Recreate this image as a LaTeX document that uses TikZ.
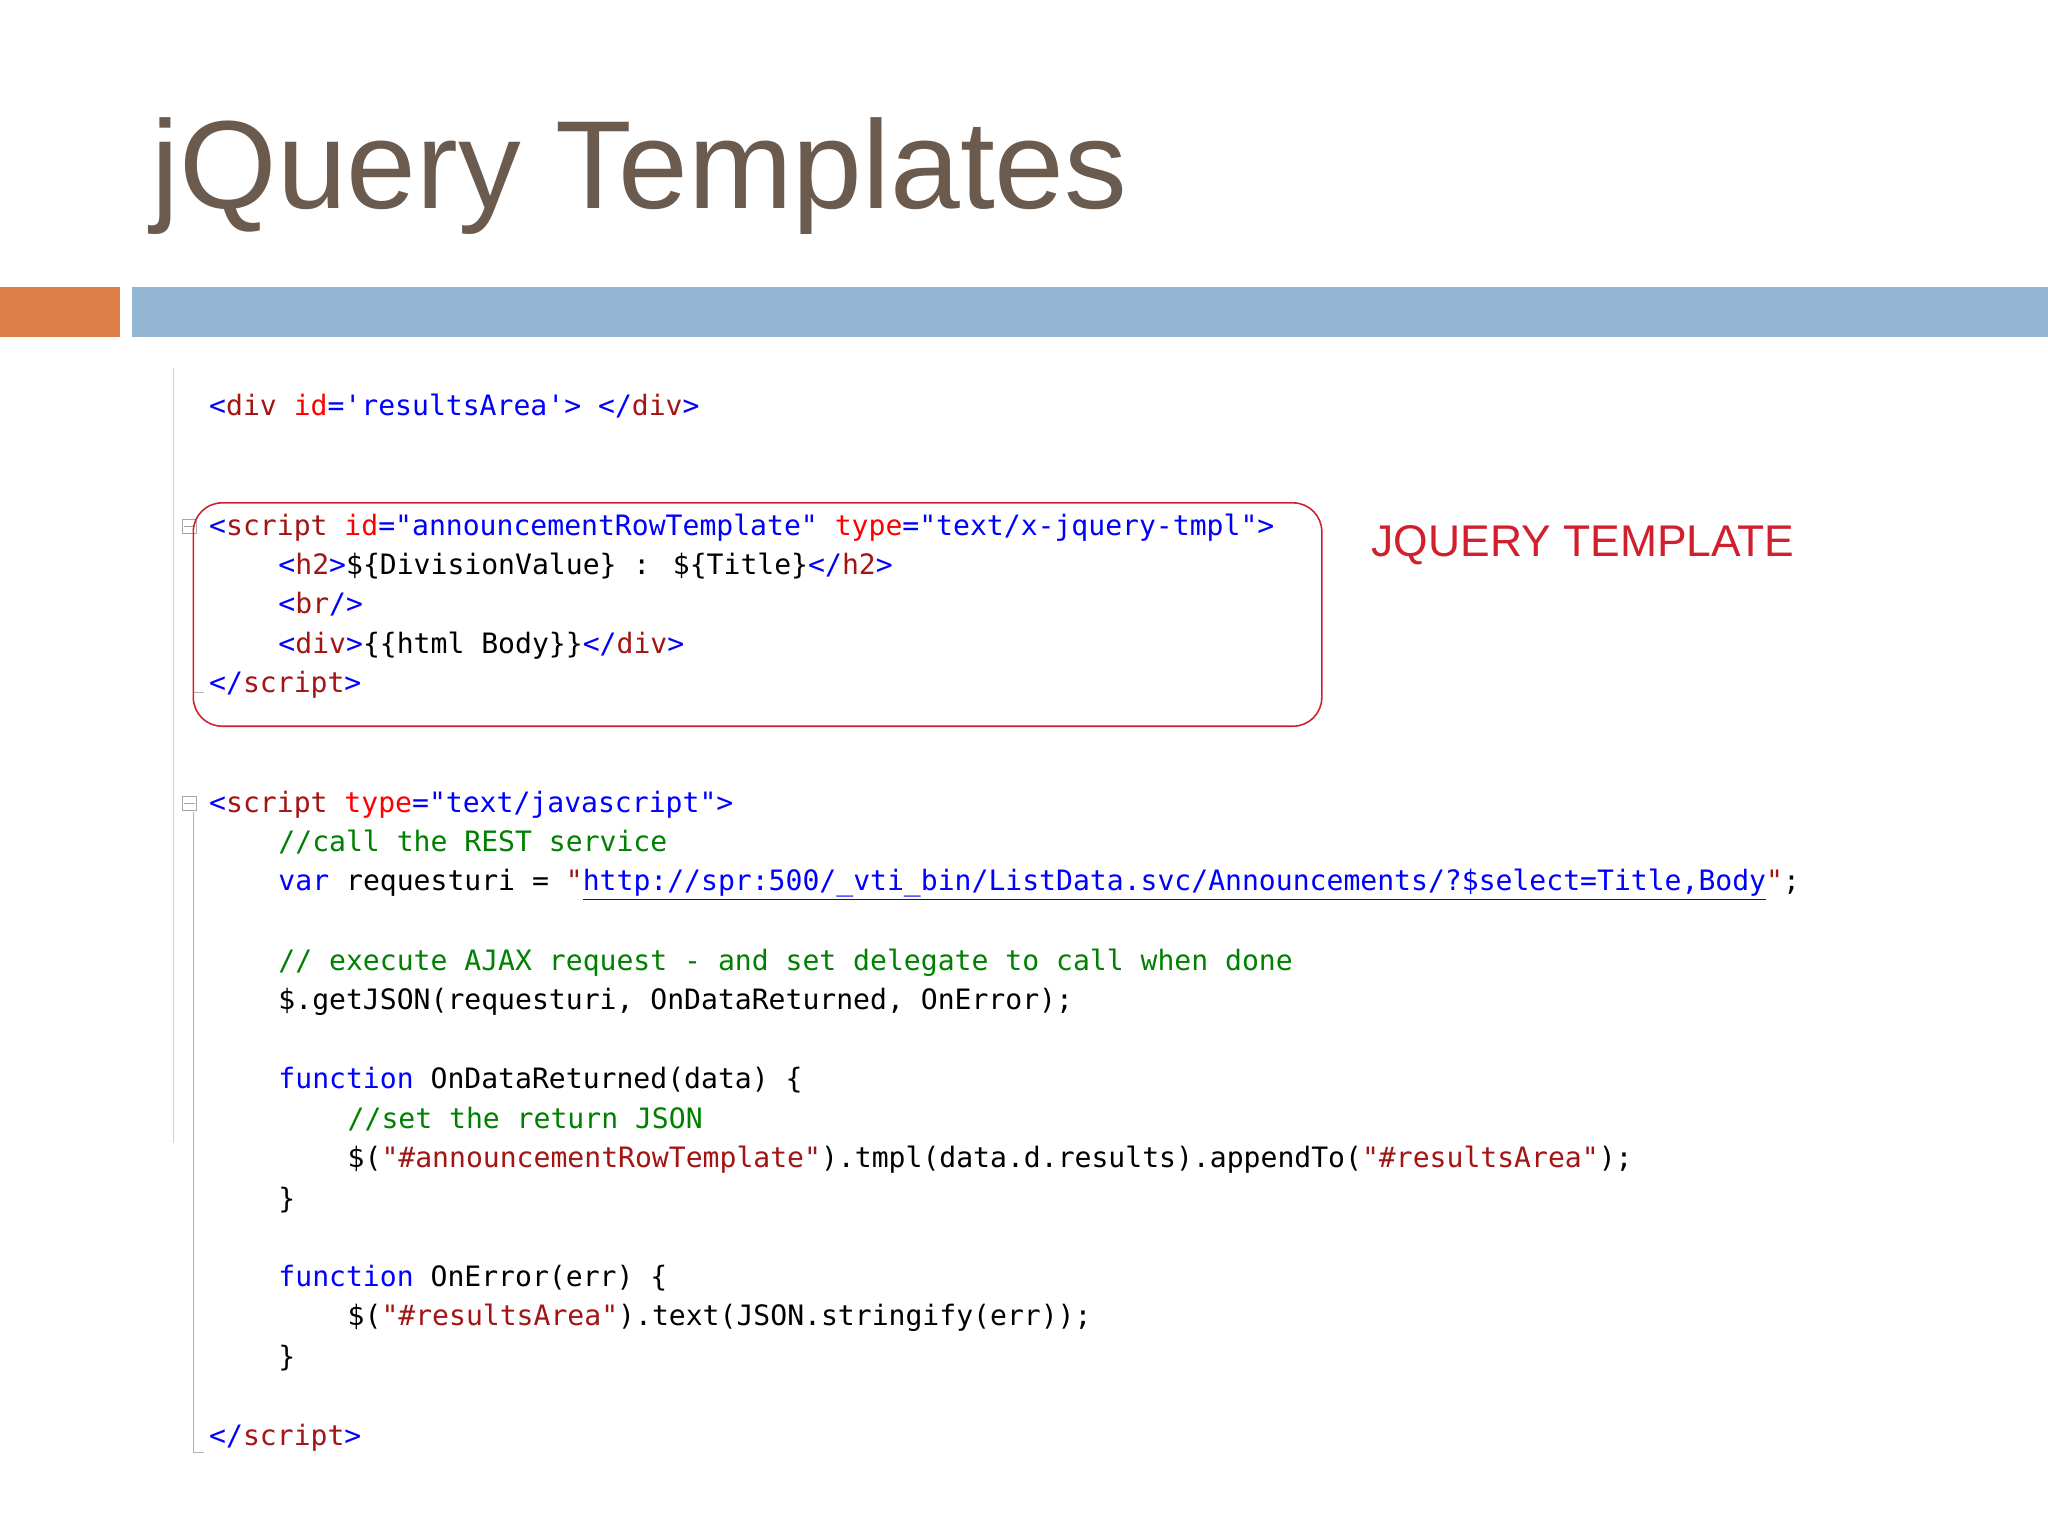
\documentclass[tikz,border=0pt]{standalone}
\usepackage{fontspec}
\setmainfont{Liberation Sans}
\newfontfamily\codefont{DejaVu Sans Mono}
\definecolor{titlec}{HTML}{6B5A4E}
\definecolor{orangec}{HTML}{DD8047}
\definecolor{bluebar}{HTML}{94B6D2}
\definecolor{tagc}{HTML}{A31515}
\definecolor{brc}{HTML}{0000FF}
\definecolor{attc}{HTML}{FF0000}
\definecolor{kwc}{HTML}{0000FF}
\definecolor{cmc}{HTML}{008000}
\definecolor{strc}{HTML}{A31515}
\definecolor{boxred}{HTML}{D0202E}
\newcommand{\Br}[1]{\textcolor{brc}{#1}}
\newcommand{\Tg}[1]{\textcolor{tagc}{#1}}
\newcommand{\At}[1]{\textcolor{attc}{#1}}
\newcommand{\Vl}[1]{\textcolor{brc}{#1}}
\newcommand{\Kw}[1]{\textcolor{kwc}{#1}}
\newcommand{\Cm}[1]{\textcolor{cmc}{#1}}
\newcommand{\St}[1]{\textcolor{strc}{#1}}
\begin{document}
\begin{tikzpicture}[x=1pt,y=-1pt,
  code/.style={anchor=base west,inner sep=0pt,font=\codefont\fontsize{21.5}{26}\selectfont,text=black},
  cbox/.style={draw=gray!70,line width=0.8pt,minimum size=11pt,inner sep=0pt}]
\useasboundingbox (0,0) rectangle (1568,1176);
\fill[white] (0,0) rectangle (1568,1176);
\node[anchor=base west,inner sep=0pt,text=titlec,font=\fontsize{96}{110}\selectfont] (title) at (116,160) {jQuery Templates};
\fill[orangec] (0,220) rectangle (92,258);
\fill[bluebar] (101,220) rectangle (1568,258);
% gutter lines
\draw[gray!35,line width=1pt] (133,282) -- (133,875);
\draw[gray!60,line width=1pt] (148,410) -- (148,530) -- (156,530);
\draw[gray!60,line width=1pt] (148,622) -- (148,1112) -- (156,1112);
\node[cbox] (c1) at (145,403) {};
\draw[gray!70] (141,403) -- (149,403);
\node[cbox] (c2) at (145,615) {};
\draw[gray!70] (141,615) -- (149,615);
% template box
\draw[boxred,line width=1.2pt,rounded corners=22pt] (148,385) rectangle (1012,556);
\node[anchor=base west,inner sep=0pt,text=boxred,font=\fontsize{34}{38}\selectfont] (lbl) at (1050,426) {JQUERY TEMPLATE};
% code
\node[code] (l1) at (160,318) {\Br{<}\Tg{div} \At{id}\Br{=}\Vl{'resultsArea'}\Br{>} \Br{</}\Tg{div}\Br{>}};
\node[code] (l2) at (160,410) {\Br{<}\Tg{script} \At{id}\Br{=}\Vl{"announcementRowTemplate"} \At{type}\Br{=}\Vl{"text/x-jquery-tmpl"}\Br{>}};
\node[code] (l3) at (213,440) {\Br{<}\Tg{h2}\Br{>}\$\{DivisionValue\} : \$\{Title\}\Br{</}\Tg{h2}\Br{>}};
\node[code] (l4) at (213,470) {\Br{<}\Tg{br}\Br{/>}};
\node[code] (l5) at (213,500) {\Br{<}\Tg{div}\Br{>}\{\{html Body\}\}\Br{</}\Tg{div}\Br{>}};
\node[code] (l6) at (160,530) {\Br{</}\Tg{script}\Br{>}};
\node[code] (l7) at (160,622) {\Br{<}\Tg{script} \At{type}\Br{=}\Vl{"text/javascript"}\Br{>}};
\node[code] (l8) at (213,652) {\Cm{//call the REST service}};
\node[code] (l9) at (213,682) {\Kw{var} requesturi = \St{"}\textcolor{brc}{\underline{http://spr:500/\_vti\_bin/ListData.svc/Announcements/?\$select=Title,Body}}\St{"};};
\node[code] (l10) at (213,743) {\Cm{// execute AJAX request - and set delegate to call when done}};
\node[code] (l11) at (213,773) {\$.getJSON(requesturi, OnDataReturned, OnError);};
\node[code] (l12) at (213,833) {\Kw{function} OnDataReturned(data) \{};
\node[code] (l13) at (266,864) {\Cm{//set the return JSON}};
\node[code] (l14) at (266,894) {\$(\St{"\#announcementRowTemplate"}).tmpl(data.d.results).appendTo(\St{"\#resultsArea"});};
\node[code] (l15) at (213,925) {\}};
\node[code] (l16) at (213,985) {\Kw{function} OnError(err) \{};
\node[code] (l17) at (266,1015) {\$(\St{"\#resultsArea"}).text(JSON.stringify(err));};
\node[code] (l18) at (213,1046) {\}};
\node[code] (l19) at (160,1107) {\Br{</}\Tg{script}\Br{>}};
\end{tikzpicture}
\end{document}
